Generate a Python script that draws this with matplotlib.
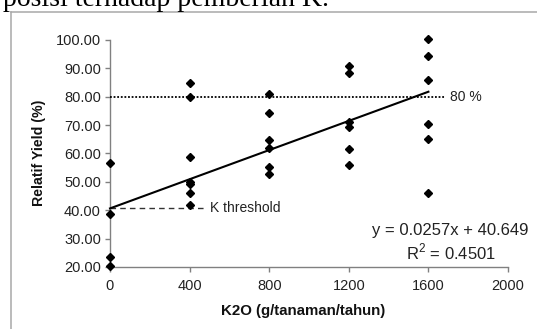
import matplotlib
matplotlib.use("Agg")
import matplotlib.pyplot as plt
from matplotlib.lines import Line2D
import numpy as np

plt.rcParams['font.family'] = ['Liberation Sans', 'DejaVu Sans']
plt.rcParams['mathtext.fontset'] = 'custom'
plt.rcParams['mathtext.rm'] = 'Liberation Sans'

# ---- data ----
x_0 = [0, 0, 0, 0]
y_0 = [56.6, 38.6, 23.7, 20.2]
x_400 = [400] * 7
y_400 = [84.8, 79.8, 58.9, 50.0, 49.4, 46.0, 41.7]
x_800 = [800] * 6
y_800 = [81.0, 74.2, 64.8, 61.9, 55.4, 52.8]
x_1200 = [1200] * 6
y_1200 = [91.0, 88.3, 71.2, 69.3, 61.5, 56.0]
x_1600 = [1600] * 6
y_1600 = [100.2, 94.4, 85.9, 70.4, 65.0, 46.0]

slope = 0.0257
intercept = 40.649
r2 = 0.4501
trend_x = [0, 1600]
target_y = 80
target_x = [0, 1683]
thresh_x = [0, 477]

xticks = [0, 400, 800, 1200, 1600, 2000]
yticks = [20, 30, 40, 50, 60, 70, 80, 90, 100]

W, H = 537, 329
fig = plt.figure(figsize=(W / 100, H / 100), dpi=100)
fig.patch.set_facecolor('white')

def fx(px):
    return px / W

def fy(py):
    return 1 - py / H

# document text cut off at top
fig.text(fx(3), fy(6.5), "posisi terhadap pemberian K.", family='Liberation Serif',
         fontsize=20, ha='left', va='baseline', color='black')

# chart frame
frame_c = '#a8a8a8'
fig.add_artist(Line2D([fx(10.5), fx(10.5)], [fy(12), fy(340)], color=frame_c, lw=1.1,
                      transform=fig.transFigure))
fig.add_artist(Line2D([fx(10.5), fx(545)], [fy(12), fy(12)], color=frame_c, lw=1.1,
                      transform=fig.transFigure))

ax = fig.add_axes([fx(110), fy(267), fx(508) - fx(110), fy(40) - fy(267)])
ax.set_xlim(0, 2000)
ax.set_ylim(20, 100)

all_x = x_0 + x_400 + x_800 + x_1200 + x_1600
all_y = y_0 + y_400 + y_800 + y_1200 + y_1600
ax.plot(all_x, all_y, linestyle='none', marker='D', markersize=4.4,
        color='black', clip_on=False, zorder=5)

tx = np.array(trend_x, dtype=float)
ax.plot(tx, intercept + slope * tx, color='black', lw=1.5, zorder=4, clip_on=False)

ax.plot(target_x, [target_y, target_y], color='black', lw=1.3, linestyle=(0, (1, 1)),
        zorder=3, clip_on=False)
ax.plot(thresh_x, [intercept, intercept], color='#333333', lw=1.0, linestyle=(0, (4, 3)),
        zorder=3, clip_on=False)

ax.text(1710, target_y, "80 %", fontsize=10, va='center', ha='left', color='#222222')
ax.text(505, intercept, "K threshold", fontsize=10, va='center', ha='left', color='#222222')

for s in ['top', 'right']:
    ax.spines[s].set_visible(False)
for s in ['left', 'bottom']:
    ax.spines[s].set_color('#808080')
    ax.spines[s].set_linewidth(1.0)

ax.set_xticks(xticks)
ax.set_yticks(yticks)
ax.set_xticklabels([str(v) for v in xticks])
ax.set_yticklabels([f"{v:.2f}" for v in yticks])
ax.tick_params(axis='both', direction='out', length=3.5, width=1.0, color='#808080',
               labelsize=10.5, labelcolor='#222222')
ax.tick_params(axis='y', pad=3)
ax.tick_params(axis='x', pad=5)

fig.text(fx(39), fy(153), "Relatif Yield (%)", rotation=90, fontsize=10.2, fontweight='bold',
         ha='center', va='center', color='#111111')
fig.text(fx(303.5), fy(310.5), "K2O (g/tanaman/tahun)", fontsize=10.8, fontweight='bold',
         ha='center', va='center', color='#111111')

fig.text(fx(450), fy(230), f"y = {slope}x + {intercept}", fontsize=12,
         ha='center', va='center', color='#222222')
fig.text(fx(451), fy(252), "R$^{2}$ = " + f"{r2}", fontsize=12,
         ha='center', va='center', color='#222222')

fig.savefig("out.png", dpi=100, facecolor='white')
